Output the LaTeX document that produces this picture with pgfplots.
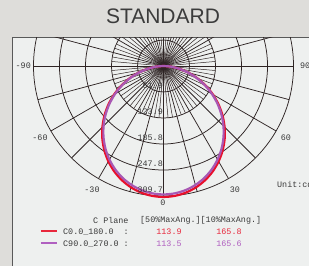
\documentclass[border=0pt]{standalone}
\usepackage{fontspec}
\setmainfont{Liberation Sans}
\newfontfamily\mono{Liberation Mono}
\usepackage{pgfplots}
\pgfplotsset{compat=1.18}
\definecolor{outerbg}{HTML}{DEDDDA}
\definecolor{panel}{HTML}{EEF0EF}
\definecolor{gridc}{HTML}{2E2424}
\definecolor{redc}{HTML}{E8102C}
\definecolor{purc}{HTML}{A858B4}
\definecolor{titlec}{HTML}{3C3C3C}
\definecolor{labc}{HTML}{3A3A3A}
\definecolor{redt}{HTML}{E8283C}
\definecolor{purt}{HTML}{B060C0}
\begin{document}
\begin{tikzpicture}
\useasboundingbox (0,0) rectangle (309pt,266pt);
\clip (0,0) rectangle (309pt,266pt);
\fill[outerbg] (0,0) rectangle (309pt,266pt);
\fill[panel] (12pt,0) rectangle (309pt,229pt);
\draw[black!65, line width=0.9pt] (12pt,0) -- (12pt,229pt) -- (309pt,229pt);
\begin{axis}[at={(0,0)}, anchor=south west, scale only axis,
  width=309pt, height=266pt,
  xmin=-389.5, xmax=346.6, ymin=-476.5, ymax=157.2,
  hide axis, clip=false]
\begin{scope}
\clip (axis cs:-360.9,-476.5) rectangle (axis cs:346.6,68.0);
\pgfplotsinvokeforeach{61.9,123.9,185.8,247.8,309.7}{
  \draw[gridc, line width=0.75pt] (axis cs:0,0) circle[radius=#1];
}
\pgfplotsinvokeforeach{0,15,...,345}{
  \draw[gridc, line width=0.75pt] (axis cs:0,0) -- (axis cs:{309.7*cos(#1)},{309.7*sin(#1)});
}
\pgfplotsinvokeforeach{5,10,20,25,35,40,50,55,65,70,80,85,95,100,110,115,125,130,140,145,155,160,170,175,185,190,200,205,215,220,230,235,245,250,260,265,275,280,290,295,305,310,320,325,335,340,350,355}{
  \draw[gridc, line width=0.5pt] (axis cs:0,0) -- (axis cs:{123.9*cos(#1)},{123.9*sin(#1)});
}
\end{scope}
% C0.0_180.0 : angle = gamma - 90, radius = intensity (cd)
\addplot[redc, line width=2.2pt, smooth, data cs=polar] coordinates {
(-180,0) (-175,16.7) (-170,38.2) (-165,61.6) (-160,86.1) (-155,111.0) (-150,135.8)
(-145,160.1) (-140,183.6) (-135,205.8) (-130,226.6) (-125,245.6) (-120,262.5)
(-115,277.3) (-110,289.6) (-105,299.3) (-100,306.3) (-95,310.6) (-90,312)
(-85,310.6) (-80,306.3) (-75,299.3) (-70,289.6) (-65,277.3) (-60,262.5)
(-55,245.6) (-50,226.6) (-45,205.8) (-40,183.6) (-35,160.1) (-30,135.8)
(-25,111.0) (-20,86.1) (-15,61.6) (-10,38.2) (-5,16.7) (0,0)};
% C90.0_270.0
\addplot[purc, line width=2.2pt, smooth, data cs=polar] coordinates {
(-180,0) (-175,16.4) (-170,37.4) (-165,60.4) (-160,84.4) (-155,108.9) (-150,133.2)
(-145,157.1) (-140,180.1) (-135,201.9) (-130,222.2) (-125,240.9) (-120,257.5)
(-115,271.9) (-110,284.0) (-105,293.5) (-100,300.4) (-95,304.6) (-90,306)
(-85,304.6) (-80,300.4) (-75,293.5) (-70,284.0) (-65,271.9) (-60,257.5)
(-55,240.9) (-50,222.2) (-45,201.9) (-40,180.1) (-35,157.1) (-30,133.2)
(-25,108.9) (-20,84.4) (-15,60.4) (-10,37.4) (-5,16.4) (0,0)};
\end{axis}
% title
\node[titlec, inner sep=0, font=\fontsize{21}{24}\selectfont] at (163pt,250pt) {STANDARD};
% angle labels
\begin{scope}[every node/.style={labc, inner sep=0, font=\mono\fontsize{8.4}{9}\selectfont}]
\node[anchor=east] at (31pt,200pt) {-90};
\node[anchor=west] at (300pt,200pt) {90};
\node at (40pt,128pt) {-60};
\node at (286pt,128pt) {60};
\node at (92pt,76pt) {-30};
\node at (235pt,76pt) {30};
\node at (163pt,63pt) {0};
\node[anchor=east] at (163pt,180pt) {61.9};
\node[anchor=east] at (163pt,154pt) {123.9};
\node[anchor=east] at (163pt,128pt) {185.8};
\node[anchor=east] at (163pt,102pt) {247.8};
\node[anchor=east] at (163pt,76pt) {309.7};
\node[anchor=west] at (277pt,81pt) {Unit:cd};
\node[anchor=west] at (93pt,46pt) {C Plane};
\node[anchor=west] at (140pt,46pt) {[50\%MaxAng.][10\%MaxAng.]};
\node[anchor=west] at (63pt,34pt) {C0.0\_180.0\ \ :};
\node[anchor=west] at (63pt,22pt) {C90.0\_270.0\ :};
\node[redt] at (169pt,34pt) {113.9};
\node[redt] at (229pt,34pt) {165.8};
\node[purt] at (169pt,22pt) {113.5};
\node[purt] at (229pt,22pt) {165.6};
\end{scope}
\draw[redt, line width=1.2pt] (41pt,35pt) -- (57pt,35pt);
\draw[purt, line width=1.2pt] (41pt,23pt) -- (57pt,23pt);
\end{tikzpicture}
\end{document}
